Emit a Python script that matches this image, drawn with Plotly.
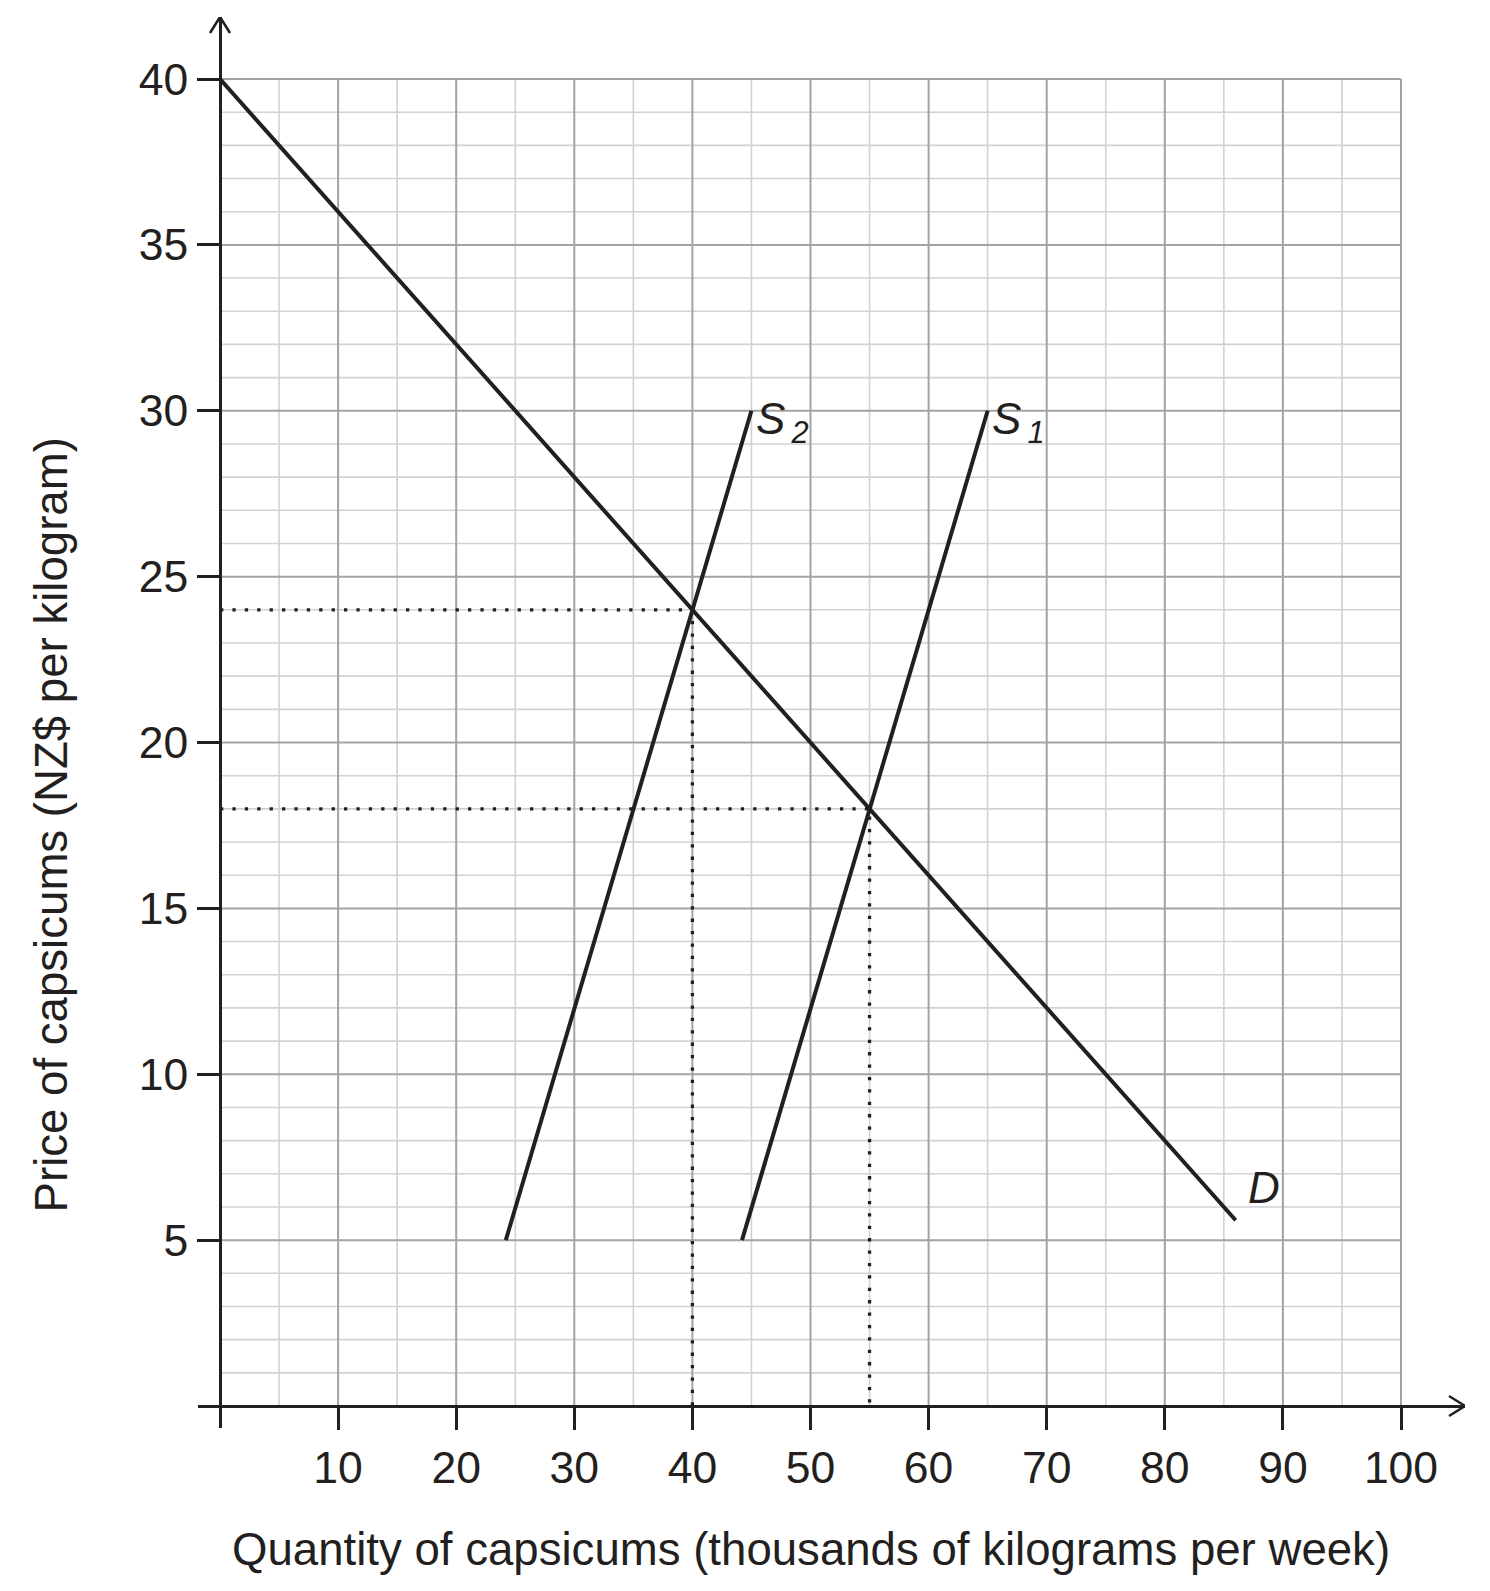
import plotly.graph_objects as go

# ---------------- data ----------------
demand_q = [0, 86]
demand_p = [40, 5.6]
s1_q = [44.2, 65]
s1_p = [5, 30]
s2_q = [24.2, 45]
s2_p = [5, 30]
eq_q = [40, 55]          # equilibrium quantities (S2, S1)
eq_p = [24, 18]          # equilibrium prices (S2, S1)

x_ticks = [10, 20, 30, 40, 50, 60, 70, 80, 90, 100]
x_tick_text = ["10", "20", "30", "40", "50", "60", "70", "80", "90", "100"]
y_ticks = [5, 10, 15, 20, 25, 30, 35, 40]
y_tick_text = ["5", "10", "15", "20", "25", "30", "35", "40"]

x_title = "Quantity of capsicums (thousands of kilograms per week)"
y_title = "Price of capsicums (NZ$ per kilogram)"

# ---------------- layout constants ----------------
W, H = 1490, 1591
ML, MR, MT, MB = 198, 25, 17, 163
PX0, PX100 = 220.0, 1401.0     # pixel of x=0 and x=100
PY0, PY40 = 1406.0, 79.0       # pixel of y=0 and y=40
sx = (PX100 - PX0) / 100.0
sy = (PY0 - PY40) / 40.0
xmin = (ML - PX0) / sx
xmax = xmin + (W - ML - MR) / sx
ymin = -((H - MB) - PY0) / sy
ymax = ymin + (H - MT - MB) / sy

INK = "#231f20"
FONT = "Liberation Sans, Arial, sans-serif"

fig = go.Figure()

# ---------------- grid (limited to 0..100, 0..40) ----------------
def seg_trace(xs, ys, color, width):
    fig.add_trace(go.Scatter(x=xs, y=ys, mode="lines",
                             line=dict(color=color, width=width),
                             hoverinfo="skip", showlegend=False))

minor_x, minor_y, major_x, major_y = [], [], [], []
for v in range(5, 101, 5):
    tx, ty = (major_x, major_y) if v % 10 == 0 else (minor_x, minor_y)
    tx += [v, v, None]
    ty += [0, 40, None]
for v in range(1, 41):
    tx, ty = (major_x, major_y) if v % 5 == 0 else (minor_x, minor_y)
    tx += [0, 100, None]
    ty += [v, v, None]
seg_trace(minor_x, minor_y, "#d2d2d2", 1.6)
seg_trace(major_x, major_y, "#a3a3a3", 2.0)

# ---------------- dotted guide lines ----------------
for q, p in zip(eq_q, eq_p):
    fig.add_trace(go.Scatter(x=[0, q, q], y=[p, p, 0], mode="lines",
                             line=dict(color=INK, width=3.3, dash="3.3px,9.1px"),
                             hoverinfo="skip", showlegend=False))

# ---------------- curves ----------------
for xs, ys in [(demand_q, demand_p), (s1_q, s1_p), (s2_q, s2_p)]:
    fig.add_trace(go.Scatter(x=xs, y=ys, mode="lines",
                             line=dict(color=INK, width=4),
                             hoverinfo="skip", showlegend=False))

# ---------------- axis arrowheads ----------------
ah_back, ah_half = 16.0, 10.0
fig.add_trace(go.Scatter(
    x=[xmax - ah_back / sx, xmax, xmax - ah_back / sx],
    y=[ah_half / sy, 0, -ah_half / sy],
    mode="lines", line=dict(color=INK, width=2.5), cliponaxis=False,
    hoverinfo="skip", showlegend=False))
fig.add_trace(go.Scatter(
    x=[-ah_half / sx, 0, ah_half / sx],
    y=[ymax - ah_back / sy, ymax, ymax - ah_back / sy],
    mode="lines", line=dict(color=INK, width=2.5), cliponaxis=False,
    hoverinfo="skip", showlegend=False))

# ---------------- curve labels ----------------
lab_font = dict(family=FONT, size=44, color=INK)
fig.add_annotation(x=s2_q[1] + 0.2, y=s2_p[1] - 0.35, xref="x", yref="y",
                   text="<i>S<sub>\u20092</sub></i>", showarrow=False,
                   xanchor="left", yanchor="middle", font=lab_font)
fig.add_annotation(x=s1_q[1] + 0.2, y=s1_p[1] - 0.35, xref="x", yref="y",
                   text="<i>S<sub>\u20091</sub></i>", showarrow=False,
                   xanchor="left", yanchor="middle", font=lab_font)
fig.add_annotation(x=86.9, y=6.6, xref="x", yref="y",
                   text="<i>D</i>", showarrow=False,
                   xanchor="left", yanchor="middle", font=lab_font)

# ---------------- axis titles ----------------
title_font = dict(family=FONT, size=45.6, color=INK)
fig.add_annotation(x=50, y=((H - MB) - 1549) / (H - MT - MB), xref="x", yref="paper",
                   text=x_title, showarrow=False, xanchor="center", yanchor="middle",
                   font=title_font)
fig.add_annotation(x=(51 - ML) / (W - ML - MR), y=17.5, xref="paper", yref="y",
                   text=y_title, showarrow=False, textangle=-90,
                   xanchor="center", yanchor="middle", font=title_font)

# ---------------- axes ----------------
tick_font = dict(family=FONT, size=44.5, color=INK)
fig.update_xaxes(range=[xmin, xmax], anchor="free",
                 position=(0 - ymin) / (ymax - ymin),
                 showgrid=False, zeroline=False,
                 showline=True, linecolor=INK, linewidth=2.5,
                 ticks="outside", ticklen=22, tickwidth=2.5, tickcolor=INK,
                 tickvals=x_ticks, ticktext=x_tick_text, tickfont=tick_font)
fig.update_yaxes(range=[ymin, ymax], anchor="free",
                 position=(0 - xmin) / (xmax - xmin),
                 showgrid=False, zeroline=False,
                 showline=True, linecolor=INK, linewidth=2.5,
                 ticks="outside", ticklen=22, tickwidth=2.5, tickcolor=INK,
                 tickvals=y_ticks, ticktext=y_tick_text, tickfont=tick_font)

fig.update_layout(width=W, height=H,
                  margin=dict(l=ML, r=MR, t=MT, b=MB, pad=0),
                  paper_bgcolor="white", plot_bgcolor="white",
                  showlegend=False, font=dict(family=FONT, color=INK))

fig.write_html("out.html", config={"displayModeBar": False})
